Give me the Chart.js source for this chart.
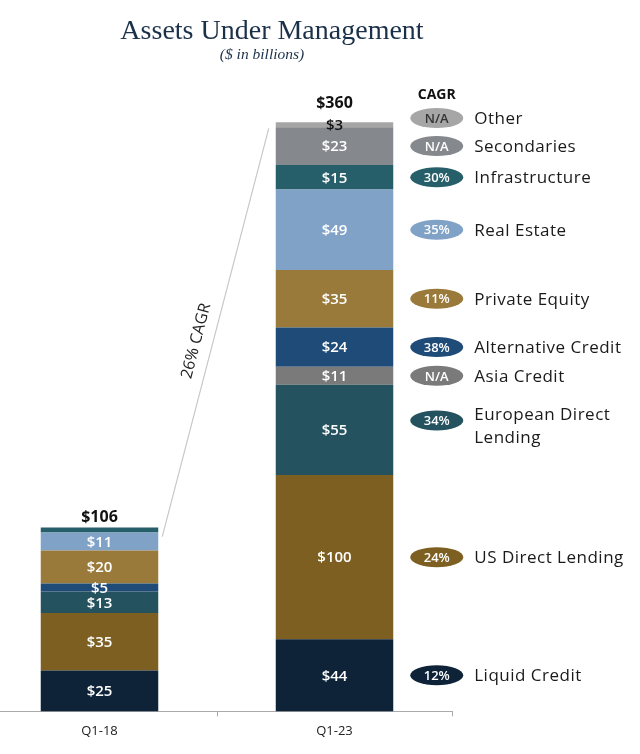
<!DOCTYPE html>
<html>
<head>
<meta charset="utf-8">
<script src="https://cdn.jsdelivr.net/npm/chart.js@4.4.0/dist/chart.umd.min.js"></script>
<style>
    body { margin: 0; background: #fff; overflow: hidden; }
    /* the left category reaches past the page edge, so the canvas starts off-screen */
    #aum { display: block; margin-left: -18px; }
</style>
</head>
<body>
<canvas id="aum" width="658" height="754"></canvas>
<script>
// periods on the x axis
const periods = ['Q1-18', 'Q1-23'];

// stack order, bottom to top
const categories = ['Liquid Credit', 'US Direct Lending', 'European Direct Lending', 'Asia Credit',
    'Alternative Credit', 'Private Equity', 'Real Estate', 'Infrastructure', 'Secondaries', 'Other'];

// $ in billions
const q118Values = [25, 35, 13, 0, 5, 20, 11, 3, 0, 0];
const q123Values = [44, 100, 55, 11, 24, 35, 49, 15, 23, 3];

const cagrs = ['12%', '24%', '34%', 'N/A', '38%', '11%', '35%', '30%', 'N/A', 'N/A'];
const totals = ['$106', '$360'];
const overallCagr = '26% CAGR';

const legendNames = [['Liquid Credit'], ['US Direct Lending'], ['European Direct', 'Lending'], ['Asia Credit'],
    ['Alternative Credit'], ['Private Equity'], ['Real Estate'], ['Infrastructure'], ['Secondaries'], ['Other']];

const colors = ['#0e2338', '#7d5f22', '#24525e', '#7a7a7a', '#1f4b78',
    '#9a7a3a', '#80a2c7', '#265f69', '#85888c', '#a6a6a6'];

const SANS = '"Open Sans", sans-serif';
const SHIFT = 18; // canvas offset against the page

const annotations = {
    id: 'annotations',
    afterDatasetsDraw(chart) {
        const ctx = chart.ctx;
        const last = chart.data.datasets.length - 1;
        ctx.save();

        // title
        ctx.textAlign = 'center';
        ctx.textBaseline = 'alphabetic';
        ctx.fillStyle = '#1b3049';
        ctx.font = '28px "Liberation Serif", serif';
        ctx.fillText('Assets Under Management', 272 + SHIFT, 39);
        ctx.font = 'italic 15.5px "Liberation Serif", serif';
        ctx.fillText('($ in billions)', 262 + SHIFT, 59);

        // values inside the segments
        ctx.textBaseline = 'middle';
        ctx.font = '600 15px ' + SANS;
        chart.data.datasets.forEach((ds, i) => {
            const meta = chart.getDatasetMeta(i);
            meta.data.forEach((bar, j) => {
                const v = ds.data[j];
                if (!v) return;
                if (j === 0 && i === 7) return;
                ctx.fillStyle = i === last ? '#111' : '#fff';
                ctx.fillText('$' + v, bar.x, (bar.y + bar.base) / 2 + 1);
            });
        });

        // totals above the bars
        const topMeta = chart.getDatasetMeta(last);
        const totalOffsets = [10, 19];
        ctx.fillStyle = '#111';
        ctx.font = 'bold 16px ' + SANS;
        topMeta.data.forEach((bar, j) => {
            ctx.fillText(totals[j], bar.x, bar.y - totalOffsets[j]);
        });

        // growth line between the two bars
        const b0 = topMeta.data[0];
        const b1 = topMeta.data[1];
        const x0 = b0.x + b0.width / 2 + 4, y0 = b0.y + 9;
        const x1 = b1.x - b1.width / 2 - 7, y1 = b1.y + 6;
        ctx.strokeStyle = '#c8c8c8';
        ctx.lineWidth = 1.2;
        ctx.beginPath();
        ctx.moveTo(x0, y0);
        ctx.lineTo(x1, y1);
        ctx.stroke();

        const ang = Math.atan2(y1 - y0, x1 - x0);
        const ty = 341;
        const tx = x0 + (ty - y0) / (y1 - y0) * (x1 - x0);
        ctx.save();
        ctx.translate(tx - 17, ty);
        ctx.rotate(ang);
        ctx.fillStyle = '#222';
        ctx.font = '16px ' + SANS;
        ctx.fillText(overallCagr, 0, 0);
        ctx.restore();

        // CAGR legend next to the right bar, pushed up where entries would collide
        const meta1 = chart.data.datasets.map((ds, i) => chart.getDatasetMeta(i).data[1]);
        const ys = meta1.map(bar => (bar.y + bar.base) / 2);
        for (let i = 1; i < ys.length; i++) {
            ys[i] = Math.min(ys[i], ys[i - 1] - 28);
        }
        const pillX = b1.x + b1.width / 2 + 43.5;
        const textX = b1.x + b1.width / 2 + 81;

        ctx.textAlign = 'center';
        ctx.font = 'bold 14px ' + SANS;
        ctx.fillStyle = '#111';
        ctx.fillText('CAGR', pillX, 95);

        categories.forEach((name, i) => {
            const lines = legendNames[i];
            let py = ys[i];
            let firstLine = py;
            if (lines.length > 1) {
                const blockMid = py - 4;
                firstLine = blockMid - (lines.length - 1) * 23 / 2;
                py = firstLine + 6;
            }
            ctx.fillStyle = colors[i];
            ctx.beginPath();
            ctx.ellipse(pillX, py, 26.5, 10, 0, 0, Math.PI * 2);
            ctx.fill();

            ctx.textAlign = 'center';
            ctx.letterSpacing = '0px';
            ctx.font = '600 13px ' + SANS;
            ctx.fillStyle = i === last ? '#333' : '#fff';
            ctx.fillText(cagrs[i], pillX, py + 1);

            ctx.textAlign = 'left';
            ctx.letterSpacing = '0.5px';
            ctx.font = '17px ' + SANS;
            ctx.fillStyle = '#1a1a1a';
            lines.forEach((line, k) => {
                ctx.fillText(line, textX, firstLine + k * 23 + 1);
            });
        });

        ctx.restore();
    }
};

const datasets = categories.map((name, i) => {
    return {
        label: name,
        data: [q118Values[i], q123Values[i]],
        backgroundColor: colors[i],
        borderWidth: 0,
        categoryPercentage: 1,
        barPercentage: 0.5
    };
});

new Chart(document.getElementById('aum'), {
    type: 'bar',
    data: {
        labels: periods,
        datasets: datasets
    },
    options: {
        responsive: false,
        animation: false,
        layout: {
            padding: {left: 0, right: 188, top: 55, bottom: 8}
        },
        plugins: {
            legend: {display: false},
            tooltip: {enabled: false}
        },
        scales: {
            x: {
                stacked: true,
                grid: {drawOnChartArea: false, drawTicks: true, tickLength: 5, color: '#aaa'},
                border: {color: '#aaa'},
                ticks: {color: '#222', padding: 7, font: {family: 'Open Sans', size: 13}}
            },
            y: {
                stacked: true,
                display: false,
                min: 0,
                max: 400
            }
        }
    },
    plugins: [annotations]
});
</script>
</body>
</html>
